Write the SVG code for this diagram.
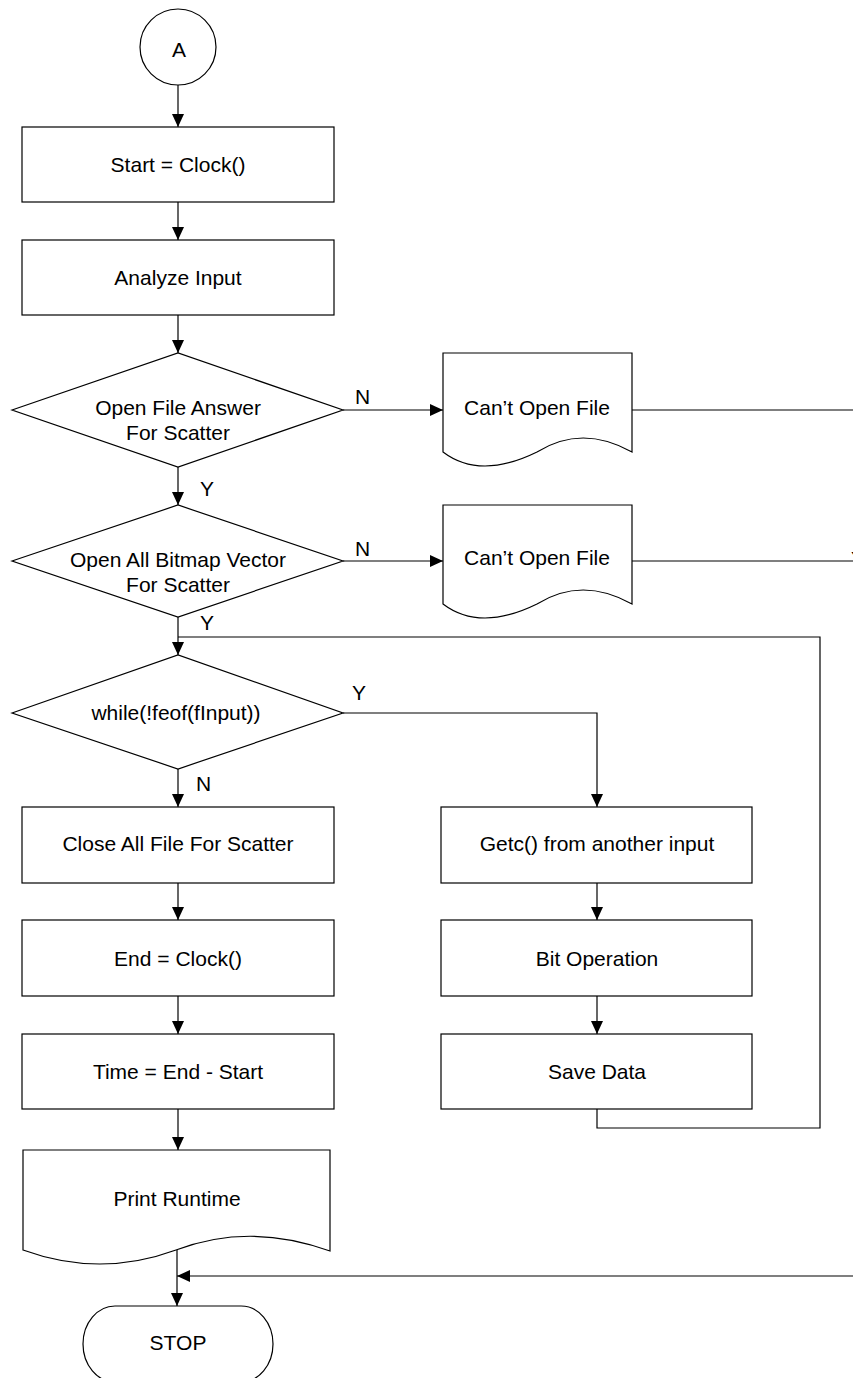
<svg xmlns="http://www.w3.org/2000/svg" width="853" height="1378" viewBox="0 0 853 1378">
<style>
.s{fill:#fff;stroke:#000;stroke-width:1.2}
.t{font-family:"Liberation Sans",Arial,sans-serif;font-size:21px;fill:#000;text-anchor:middle}
.l{font-family:"Liberation Sans",Arial,sans-serif;font-size:21px;fill:#000}
.c{fill:none;stroke:#000;stroke-width:1.2}
</style>
<defs>
<marker id="ah" markerUnits="userSpaceOnUse" markerWidth="13" markerHeight="12" refX="13" refY="6" orient="auto">
<path d="M0,0 L13,6 L0,12 Z" fill="#000"/>
</marker>
</defs>
<rect width="853" height="1378" fill="#fff"/>
<g id="connectors">
<line class="c" x1="178" y1="85" x2="178" y2="127" marker-end="url(#ah)"/>
<line class="c" x1="178" y1="202" x2="178" y2="240" marker-end="url(#ah)"/>
<line class="c" x1="178" y1="315" x2="178" y2="353" marker-end="url(#ah)"/>
<line class="c" x1="343" y1="410" x2="443" y2="410" marker-end="url(#ah)"/>
<line class="c" x1="632" y1="410" x2="853" y2="410"/>
<line class="c" x1="178" y1="467" x2="178" y2="505" marker-end="url(#ah)"/>
<line class="c" x1="343" y1="561" x2="443" y2="561" marker-end="url(#ah)"/>
<line class="c" x1="632" y1="561" x2="853" y2="561"/>
<line class="c" x1="178" y1="617" x2="178" y2="655" marker-end="url(#ah)"/>
<path class="c" d="M343,713 H597 V807" marker-end="url(#ah)"/>
<line class="c" x1="178" y1="769" x2="178" y2="807" marker-end="url(#ah)"/>
<line class="c" x1="178" y1="883" x2="178" y2="920" marker-end="url(#ah)"/>
<line class="c" x1="178" y1="996" x2="178" y2="1034" marker-end="url(#ah)"/>
<line class="c" x1="597" y1="883" x2="597" y2="920" marker-end="url(#ah)"/>
<line class="c" x1="597" y1="996" x2="597" y2="1034" marker-end="url(#ah)"/>
<path class="c" d="M597,1109 V1128 H820 V637 H178"/>
<line class="c" x1="178" y1="1109" x2="178" y2="1150" marker-end="url(#ah)"/>
<line class="c" x1="177" y1="1250" x2="177" y2="1306" marker-end="url(#ah)"/>
<line class="c" x1="853" y1="1276" x2="177" y2="1276" marker-end="url(#ah)"/>
<text class="l" x="355" y="404">N</text>
<text class="l" x="200" y="496">Y</text>
<text class="l" x="355" y="556">N</text>
<text class="l" x="851" y="566">Y</text>
<text class="l" x="200" y="630">Y</text>
<text class="l" x="352" y="700">Y</text>
<text class="l" x="196" y="791">N</text>
</g>
<g id="A">
<circle class="s" cx="178" cy="47" r="38"/>
<text class="t" x="179" y="57">A</text>
</g>
<g id="start">
<rect class="s" x="22" y="127" width="312" height="75"/>
<text class="t" x="178" y="172">Start = Clock()</text>
</g>
<g id="analyze">
<rect class="s" x="22" y="240" width="312" height="75"/>
<text class="t" x="178" y="285">Analyze Input</text>
</g>
<g id="decision1">
<polygon class="s" points="12,410 178,353 343,410 178,467"/>
<text class="t" x="178" y="415">Open File Answer</text>
<text class="t" x="178" y="440">For Scatter</text>
</g>
<g id="doc1">
<path class="s" d="M443,353 H632 V452 Q582,424 537,452 Q480,480 443,452 Z"/>
<text class="t" x="537" y="415">Can’t Open File</text>
</g>
<g id="decision2">
<polygon class="s" points="12,561 178,505 343,561 178,617"/>
<text class="t" x="178" y="567">Open All Bitmap Vector</text>
<text class="t" x="178" y="592">For Scatter</text>
</g>
<g id="doc2">
<path class="s" d="M443,505 H632 V604 Q582,576 537,604 Q480,632 443,604 Z"/>
<text class="t" x="537" y="565">Can’t Open File</text>
</g>
<g id="decision3">
<polygon class="s" points="12,713 178,655 343,713 178,769"/>
<text class="t" x="176" y="720">while(!feof(fInput))</text>
</g>
<g id="close">
<rect class="s" x="22" y="807" width="312" height="76"/>
<text class="t" x="178" y="851">Close All File For Scatter</text>
</g>
<g id="getc">
<rect class="s" x="441" y="807" width="311" height="76"/>
<text class="t" x="597" y="851">Getc() from another input</text>
</g>
<g id="end">
<rect class="s" x="22" y="920" width="312" height="76"/>
<text class="t" x="178" y="966">End = Clock()</text>
</g>
<g id="bitop">
<rect class="s" x="441" y="920" width="311" height="76"/>
<text class="t" x="597" y="966">Bit Operation</text>
</g>
<g id="time">
<rect class="s" x="22" y="1034" width="312" height="75"/>
<text class="t" x="178" y="1079">Time = End - Start</text>
</g>
<g id="save">
<rect class="s" x="441" y="1034" width="311" height="75"/>
<text class="t" x="597" y="1079">Save Data</text>
</g>
<g id="print">
<path class="s" d="M23,1150 H330 V1251 Q250,1222 176,1250 Q100,1278 23,1250 Z"/>
<text class="t" x="177" y="1206">Print Runtime</text>
</g>
<g id="stop">
<rect class="s" x="83" y="1306" width="190" height="76" rx="32" ry="38"/>
<text class="t" x="178" y="1350">STOP</text>
</g>
</svg>
